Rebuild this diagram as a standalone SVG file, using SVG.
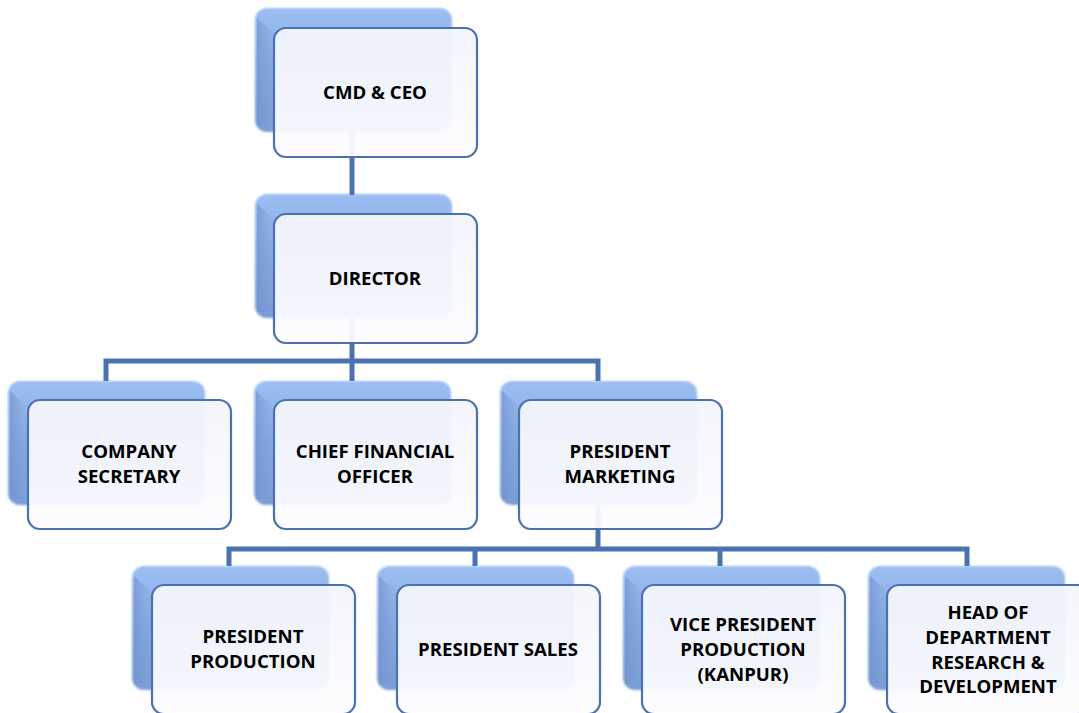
<svg xmlns="http://www.w3.org/2000/svg" width="1079" height="713" viewBox="0 0 1079 713">
<defs>
<linearGradient id="gBack" x1="0" y1="0" x2="0" y2="1">
<stop offset="0" stop-color="#9cbef2"/>
<stop offset="0.5" stop-color="#86a9e2"/>
<stop offset="1" stop-color="#7b9dd6"/>
</linearGradient>
<linearGradient id="gSide" x1="0" y1="0" x2="1" y2="0">
<stop offset="0" stop-color="#6e8fc6"/>
<stop offset="1" stop-color="#7f9fd6" stop-opacity="0"/>
</linearGradient>
<linearGradient id="gFront" x1="0" y1="0" x2="0" y2="1">
<stop offset="0" stop-color="#f3f5fb"/>
<stop offset="1" stop-color="#fdfdff"/>
</linearGradient>
<filter id="soft" x="-5%" y="-5%" width="110%" height="110%">
<feGaussianBlur stdDeviation="1.2"/>
</filter>
<g id="back">
<rect x="0" y="0" width="197" height="124" rx="12" fill="url(#gBack)" filter="url(#soft)"/>
<path d="M2,10 L22,28 L22,118 L2,118 Z" fill="url(#gSide)" opacity="0.6"/>
</g>
</defs>
<style>
.front{fill:url(#gFront);fill-opacity:0.94;stroke:#4a72b0;stroke-width:2.2}
.conn{stroke:#4a72b0;stroke-width:5;fill:none}
text{font-family:"Open Sans","Liberation Sans",sans-serif;font-weight:bold;font-size:18.6px;fill:#000;text-anchor:middle}
</style>

<g id="backs">
<use href="#back" x="255" y="8"/>
<use href="#back" x="255" y="194"/>
<use href="#back" x="8" y="381"/>
<use href="#back" x="254" y="381"/>
<use href="#back" x="500" y="381"/>
<use href="#back" x="132" y="566"/>
<use href="#back" x="377" y="566"/>
<use href="#back" x="623" y="566"/>
<use href="#back" x="868" y="566"/>
</g>

<g id="connectors">
<path class="conn" d="M352,133 V195"/>
<path class="conn" d="M352,318 V361 M106,381 V361 H598 V381 M352,361 V381"/>
<path class="conn" d="M598,505 V549 M229,566 V549 H967 V566 M475,549 V566 M720,549 V566"/>
</g>

<g id="n-cmd">
<rect class="front" x="274" y="28" width="203" height="129" rx="12"/>
<text x="375" y="99">CMD &amp; CEO</text>
</g>
<g id="n-director">
<rect class="front" x="274" y="214" width="203" height="129" rx="12"/>
<text x="375" y="285">DIRECTOR</text>
</g>
<g id="n-cs">
<rect class="front" x="28" y="400" width="203" height="129" rx="12"/>
<text x="129" y="458">COMPANY</text>
<text x="129" y="483">SECRETARY</text>
</g>
<g id="n-cfo">
<rect class="front" x="274" y="400" width="203" height="129" rx="12"/>
<text x="375" y="458">CHIEF FINANCIAL</text>
<text x="375" y="483">OFFICER</text>
</g>
<g id="n-pm">
<rect class="front" x="519" y="400" width="203" height="129" rx="12"/>
<text x="620" y="458">PRESIDENT</text>
<text x="620" y="483">MARKETING</text>
</g>
<g id="n-pp">
<rect class="front" x="152" y="585" width="203" height="129" rx="12"/>
<text x="253" y="643">PRESIDENT</text>
<text x="253" y="668">PRODUCTION</text>
</g>
<g id="n-ps">
<rect class="front" x="397" y="585" width="203" height="129" rx="12"/>
<text x="498" y="656">PRESIDENT SALES</text>
</g>
<g id="n-vp">
<rect class="front" x="642" y="585" width="203" height="129" rx="12"/>
<text x="743" y="631">VICE PRESIDENT</text>
<text x="743" y="656">PRODUCTION</text>
<text x="743" y="681">(KANPUR)</text>
</g>
<g id="n-hod">
<rect class="front" x="887" y="585" width="203" height="129" rx="12"/>
<text x="988" y="619">HEAD OF</text>
<text x="988" y="644">DEPARTMENT</text>
<text x="988" y="669">RESEARCH &amp;</text>
<text x="988" y="693">DEVELOPMENT</text>
</g>
</svg>
